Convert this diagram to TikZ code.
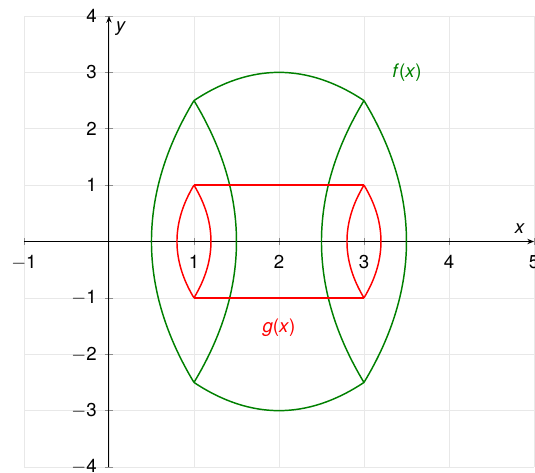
\documentclass[tikz,border=0pt]{standalone}
\usepackage{fontspec}
\setmainfont{TeX Gyre Heros}
\usetikzlibrary{arrows.meta}
\definecolor{fgreen}{RGB}{0,128,0}
\tikzset{
  gridline/.style={draw=black!9, line width=0.5pt},
  axisline/.style={draw=black, line width=0.75pt, -{Stealth[length=5pt,width=4pt]}},
  tickmark/.style={draw=black!45, line width=0.4pt},
  ticklabel/.style={font=\fontsize{14}{16}\selectfont, inner sep=0pt},
  curvelabel/.style={font=\fontsize{14}{16}\selectfont, inner sep=0pt},
  fcurve/.style={draw=fgreen, line width=1.1pt},
  gcurve/.style={draw=red, line width=1.1pt},
}
\begin{document}
\begin{tikzpicture}[x=63.75pt, y=42.28pt]
\useasboundingbox (-1.282,-4.106) rectangle (5.012,4.284);
% grid
\foreach \i in {-1,...,5} \draw[gridline] (\i,-4) -- (\i,4);
\foreach \j in {-4,...,4} \draw[gridline] (-1,\j) -- (5,\j);
% ticks
\foreach \i in {-1,1,2,3,4,5} \draw[tickmark] (\i,-0.06) -- (\i,0.06);
\foreach \j in {-4,-3,-2,-1,1,2,3,4} \draw[tickmark] (-0.045,\j) -- (0.045,\j);
% axes
\coordinate (xs) at (-1,0); \coordinate (xe) at (5,0);
\coordinate (ys) at (0,-4); \coordinate (ye) at (0,4);
\draw[axisline] (xs) -- (xe);
\draw[axisline] (ys) -- (ye);
% tick labels
\foreach \i/\t in {-1/$-$1,1/1,2/2,3/3,4/4,5/5}
  \node[ticklabel] (xl\i) at (\i,-0.37) {\t};
\foreach \j/\t in {-4/$-$4,-3/$-$3,-2/$-$2,-1/$-$1,1/1,2/2,3/3,4/4}
  \node[ticklabel, anchor=east] (yl\j) at ([xshift=-9pt]0,\j) {\t};
\node[curvelabel] (xlab) at (4.835,0.22) {\textit{x}};
\node[curvelabel] (ylab) at (0.14,3.77) {\textit{y}};
% f curve corners
\coordinate (A) at (1,2.5); \coordinate (B) at (3,2.5);
\coordinate (C) at (3,-2.5); \coordinate (D) at (1,-2.5);
\draw[fcurve] (A) .. controls (1.6667,3.1667) and (2.3333,3.1667) .. (B);
\draw[fcurve] (D) .. controls (1.6667,-3.1667) and (2.3333,-3.1667) .. (C);
\draw[fcurve] (A) .. controls (0.3333,0.8333) and (0.3333,-0.8333) .. (D);
\draw[fcurve] (A) .. controls (1.6667,0.8333) and (1.6667,-0.8333) .. (D);
\draw[fcurve] (B) .. controls (2.3333,0.8333) and (2.3333,-0.8333) .. (C);
\draw[fcurve] (B) .. controls (3.6667,0.8333) and (3.6667,-0.8333) .. (C);
% g curve corners
\coordinate (E) at (1,1); \coordinate (F) at (3,1);
\coordinate (G) at (3,-1); \coordinate (H) at (1,-1);
\draw[gcurve] (E) -- (F);
\draw[gcurve] (H) -- (G);
\draw[gcurve] (E) .. controls (0.7333,0.3333) and (0.7333,-0.3333) .. (H);
\draw[gcurve] (E) .. controls (1.2667,0.3333) and (1.2667,-0.3333) .. (H);
\draw[gcurve] (F) .. controls (2.7333,0.3333) and (2.7333,-0.3333) .. (G);
\draw[gcurve] (F) .. controls (3.2667,0.3333) and (3.2667,-0.3333) .. (G);
% labels
\node[curvelabel, text=fgreen] (flab) at (3.506,2.99) {\textit{f}(\textit{x})};
\node[curvelabel, text=red] (glab) at (2.0,-1.534) {\textit{g}(\textit{x})};
\end{tikzpicture}
\end{document}
